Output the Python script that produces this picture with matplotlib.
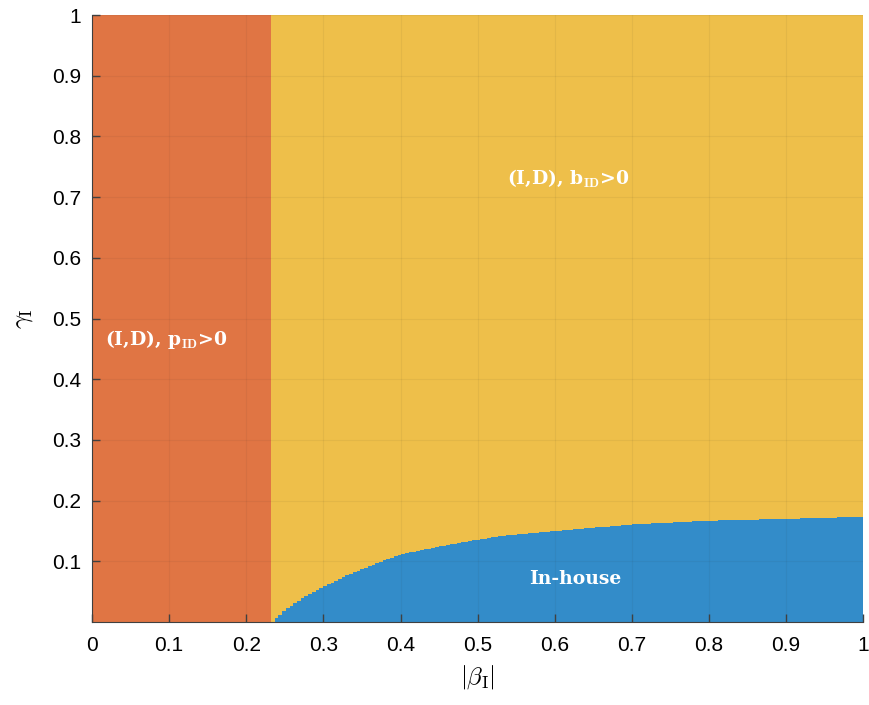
import matplotlib.pyplot as plt
import numpy as np

# Region boundaries
beta_split = 0.232
beta_curve = [0.232, 0.245, 0.26, 0.28, 0.30, 0.325, 0.35, 0.375, 0.40, 0.45, 0.50,
              0.528, 0.60, 0.70, 0.80, 0.90, 1.00]
gamma_curve = [0.0, 0.016, 0.031, 0.046, 0.059, 0.075, 0.088, 0.101, 0.112, 0.125, 0.136,
               0.142, 0.150, 0.161, 0.167, 0.170, 0.1735]

xticks = np.round(np.arange(0, 1.01, 0.1), 1)
yticks = np.round(np.arange(0.1, 1.01, 0.1), 1)
xticklabels = ["0"] + ["%g" % v for v in xticks[1:-1]] + ["1"]
yticklabels = ["%g" % v for v in yticks[:-1]] + ["1"]

c_orange = "#E07544"
c_yellow = "#EEBF4A"
c_blue = "#338CC9"

plt.rcParams['font.family'] = ['Liberation Sans', 'DejaVu Sans']
plt.rcParams['mathtext.fontset'] = 'cm'

fig = plt.figure(figsize=(8.69, 7.05), dpi=100)
ax = fig.add_axes([0.1059, 0.1177, 0.8875, 0.861])

# Regions
ax.fill_between([0, beta_split], 0, 1, color=c_orange, linewidth=0)
ax.fill_between([beta_split, 1], 0, 1, color=c_yellow, linewidth=0)
bc = np.linspace(beta_split, 1, 160)
gc = np.interp(bc, beta_curve, gamma_curve)
ax.fill_between(bc, 0, gc, color=c_blue, linewidth=0, step="post")

# Annotations
txt = dict(color="white", fontsize=13.5, fontweight="bold", family="DejaVu Serif")
ax.text(0.618, 0.731, r"(I,D), b$_{\mathbf{ID}}$>0", ha="center", va="center", **txt)
ax.text(0.017, 0.465, r"(I,D), p$_{\mathbf{ID}}$>0", ha="left", va="center", **txt)
ax.text(0.627, 0.071, "In-house", ha="center", va="center", **txt)

ax.set_xlim(0, 1)
ax.set_ylim(0, 1)
ax.set_xticks(xticks)
ax.set_xticklabels(xticklabels)
ax.set_yticks(yticks)
ax.set_yticklabels(yticklabels)
ax.tick_params(direction="in", length=6, width=1, labelsize=15, color="#404040", pad=10)
ax.tick_params(axis="y", pad=8)
ax.grid(True, color="#262626", alpha=0.06, linewidth=0.8)
ax.set_axisbelow(False)

ax.spines["top"].set_visible(False)
ax.spines["right"].set_visible(False)
ax.spines["left"].set_color("#404040")
ax.spines["bottom"].set_color("#404040")

ax.set_xlabel(r"$|\beta_{\mathrm{I}}|$", fontsize=18, labelpad=6)
ax.set_ylabel(r"$\gamma_{\mathrm{I}}$", fontsize=18, labelpad=12)

fig.savefig("out.png", dpi=100)
